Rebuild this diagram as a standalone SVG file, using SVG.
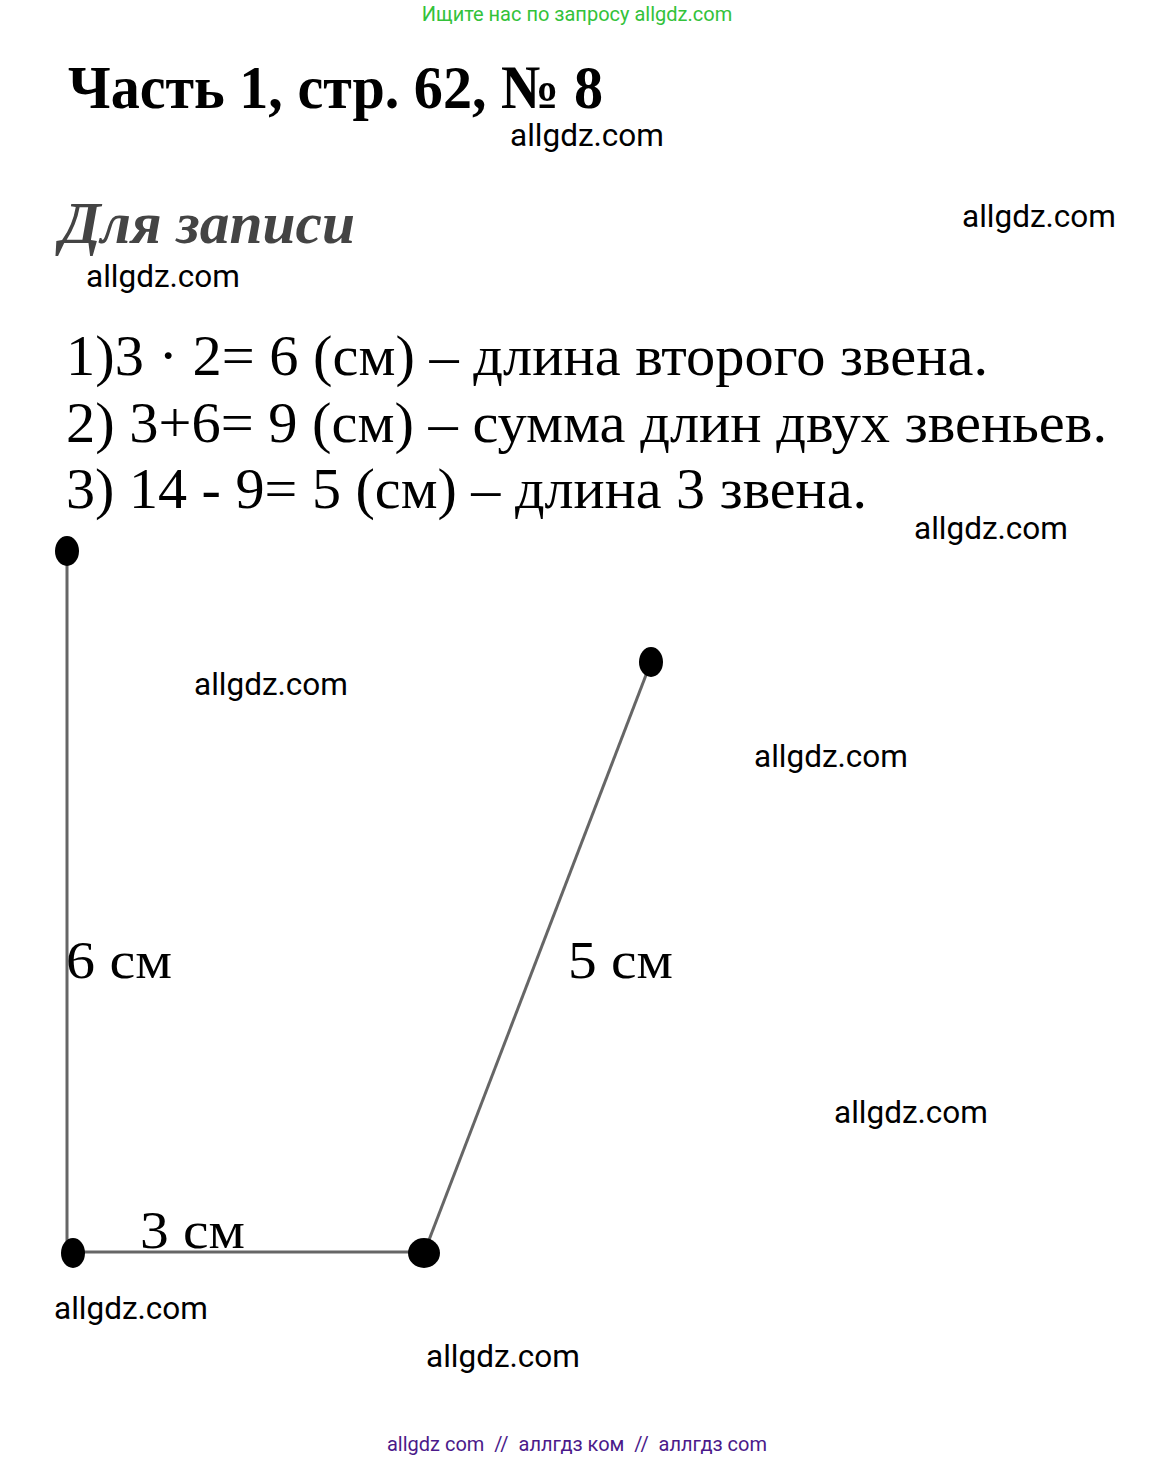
<svg xmlns="http://www.w3.org/2000/svg" width="1156" height="1462" viewBox="0 0 1156 1462">
<style>
.wm{font-family:Roboto,"Liberation Sans",sans-serif;font-size:31.5px;fill:#000}
.ser{font-family:"Liberation Serif","Times New Roman",serif;fill:#000}
.seg{stroke:#666;stroke-width:3;fill:none}
.dot{fill:#000}
</style>
<rect width="1156" height="1462" fill="#fff"/>
<text x="577" y="21" text-anchor="middle" font-family="Roboto,'Liberation Sans',sans-serif" font-size="20" fill="#33c23a">Ищите нас по запросу allgdz.com</text>
<text class="ser" x="68" y="108" font-size="62" font-weight="bold" textLength="535" lengthAdjust="spacingAndGlyphs">Часть 1, стр. 62, № 8</text>
<text class="ser" x="60" y="243" font-size="60" font-weight="bold" font-style="italic" style="fill:#444" textLength="295" lengthAdjust="spacingAndGlyphs">Для записи</text>
<text class="ser" x="66" y="375" font-size="58" textLength="922" lengthAdjust="spacingAndGlyphs">1)3 · 2= 6 (см) – длина второго звена.</text>
<text class="ser" x="66" y="442" font-size="58" textLength="1041" lengthAdjust="spacingAndGlyphs">2) 3+6= 9 (см) – сумма длин двух звеньев.</text>
<text class="ser" x="66" y="508" font-size="58" textLength="801" lengthAdjust="spacingAndGlyphs">3) 14 - 9= 5 (см) – длина 3 звена.</text>
<g id="connectors">
<line class="seg" x1="67" y1="551" x2="67" y2="1252"/>
<line class="seg" x1="73" y1="1252" x2="424" y2="1252"/>
<line class="seg" x1="424" y1="1253" x2="651" y2="662"/>
</g>
<g id="nodeA"><ellipse class="dot" cx="67" cy="551" rx="12" ry="15"/></g>
<g id="nodeB"><ellipse class="dot" cx="73" cy="1253" rx="12" ry="15"/></g>
<g id="nodeC"><ellipse class="dot" cx="424" cy="1253" rx="16" ry="15"/></g>
<g id="nodeD"><ellipse class="dot" cx="651" cy="662" rx="12" ry="15"/></g>
<text class="ser" x="66" y="978" font-size="52" textLength="106" lengthAdjust="spacingAndGlyphs">6 см</text>
<text class="ser" x="568" y="978" font-size="52" textLength="105" lengthAdjust="spacingAndGlyphs">5 см</text>
<text class="ser" x="140" y="1248" font-size="52" textLength="105" lengthAdjust="spacingAndGlyphs">3 см</text>
<text class="wm" x="510" y="146">allgdz.com</text>
<text class="wm" x="962" y="227">allgdz.com</text>
<text class="wm" x="86" y="287">allgdz.com</text>
<text class="wm" x="914" y="539">allgdz.com</text>
<text class="wm" x="194" y="695">allgdz.com</text>
<text class="wm" x="754" y="767">allgdz.com</text>
<text class="wm" x="834" y="1123">allgdz.com</text>
<text class="wm" x="54" y="1319">allgdz.com</text>
<text class="wm" x="426" y="1367">allgdz.com</text>
<text x="577" y="1451" text-anchor="middle" font-family="Roboto,'Liberation Sans',sans-serif" font-size="20" fill="#4b1a8a" xml:space="preserve">allgdz com  //  аллгдз ком  //  аллгдз com</text>
</svg>
